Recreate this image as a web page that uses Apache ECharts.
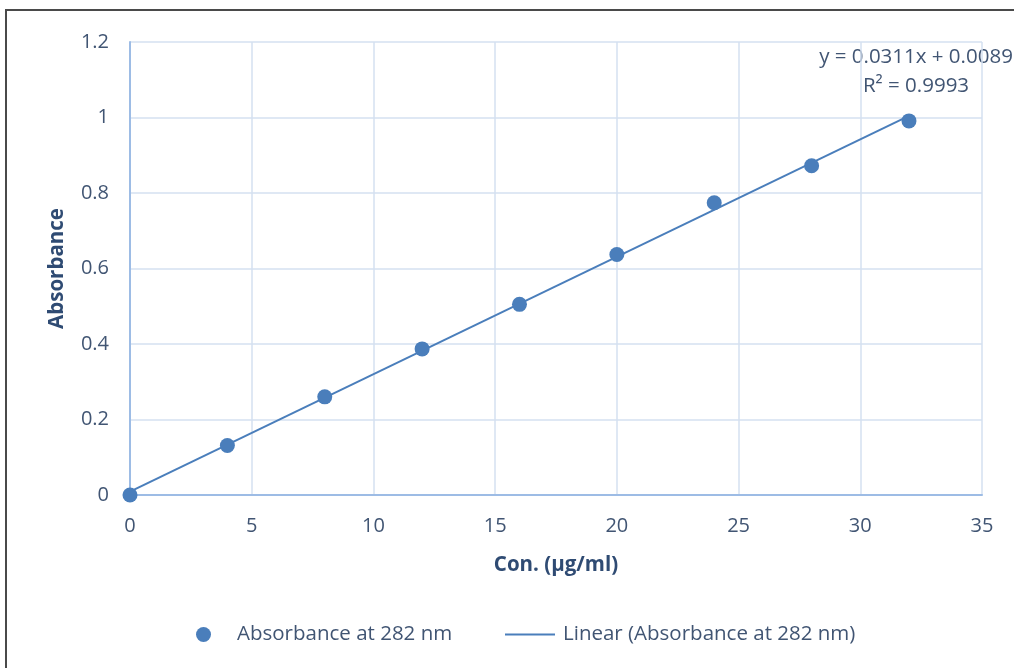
<!DOCTYPE html>
<html>
<head>
<meta charset="utf-8">
<script src="https://cdn.jsdelivr.net/npm/echarts@6/dist/echarts.min.js"></script>
<style>
html,body{margin:0;padding:0;background:#fff;}
#chart{width:1014px;height:668px;}
</style>
</head>
<body>
<div id="chart"></div>
<script>
// Data
const concentrations = [0, 4, 8, 12, 16, 20, 24, 28, 32];
const absorbance = [0.000, 0.131, 0.260, 0.387, 0.505, 0.637, 0.774, 0.872, 0.991];
const trendX = [0, 32];
const trendY = [0.0089, 1.0041];
const seriesName = 'Absorbance at 282 nm';
const trendName = 'Linear (Absorbance at 282 nm)';
const xAxisTitle = 'Con. (µg/ml)';
const yAxisTitle = 'Absorbance';
const equationText = 'y = 0.0311x + 0.0089';
const r2Text = 'R² = 0.9993';

const FONT = '"Open Sans", "DejaVu Sans", sans-serif';
const TXT = '#415573';
const TITLE = '#2F4B73';
const BLUE = '#4A7EBB';
const AXIS = '#9DBCE5';
const GRID = '#D5E1F1';

const chart = echarts.init(document.getElementById('chart'));
chart.setOption({
  backgroundColor: '#fff',
  animation: false,
  grid: { left: 130, right: 32, top: 42, bottom: 173, containLabel: false },
  xAxis: {
    type: 'value', min: 0, max: 35, interval: 5,
    name: xAxisTitle, nameLocation: 'middle', nameGap: 60,
    nameTextStyle: { fontFamily: FONT, fontSize: 20.5, fontWeight: 'bold', color: TITLE },
    axisLine: { show: true, onZero: false, lineStyle: { color: AXIS, width: 2 } },
    axisTick: { show: false },
    axisLabel: { margin: 21, fontFamily: FONT, fontSize: 20, color: TXT },
    splitLine: { show: true, lineStyle: { color: GRID, width: 1.5 } }
  },
  yAxis: {
    type: 'value', min: 0, max: 1.2, interval: 0.2,
    name: yAxisTitle, nameLocation: 'middle', nameGap: 62,
    nameTextStyle: { fontFamily: FONT, fontSize: 20.5, fontWeight: 'bold', color: TITLE },
    axisLine: { show: true, lineStyle: { color: AXIS, width: 2 } },
    axisTick: { show: false },
    axisLabel: { margin: 21, fontFamily: FONT, fontSize: 20, color: TXT },
    splitLine: { show: true, lineStyle: { color: GRID, width: 1.5 } }
  },
  legend: [
    {
      data: [{ name: seriesName, icon: 'circle' }],
      left: 191, top: 619, itemWidth: 15, itemHeight: 15,
      textStyle: { fontFamily: FONT, fontSize: 20.5, color: TXT, padding: [0, 0, 0, 21] }
    },
    {
      data: [{ name: trendName, icon: 'rect' }],
      left: 500, top: 619, itemWidth: 50, itemHeight: 2,
      textStyle: { fontFamily: FONT, fontSize: 20.5, color: TXT, padding: [0, 0, 0, 3] }
    }
  ],
  series: [
    {
      name: trendName, type: 'line', symbol: 'none',
      data: trendX.map((x, i) => [x, trendY[i]]),
      lineStyle: { color: BLUE, width: 2 }, itemStyle: { color: BLUE },
      z: 2
    },
    {
      name: seriesName, type: 'scatter', symbol: 'circle', symbolSize: 15,
      data: concentrations.map((x, i) => [x, absorbance[i]]),
      itemStyle: { color: BLUE, opacity: 1 }, z: 3
    }
  ],
  graphic: [
    { type: 'rect', shape: { x: 6, y: 10, width: 1200, height: 800 },
      style: { fill: 'none', stroke: '#4A4A4A', lineWidth: 2 }, silent: true, z: 100 },
    { type: 'text', x: 916, y: 57,
      style: { text: equationText, fontFamily: FONT, fontSize: 20.5, fill: TXT, textAlign: 'center', textVerticalAlign: 'middle' } },
    { type: 'text', x: 916, y: 86,
      style: { text: r2Text, fontFamily: FONT, fontSize: 20.5, fill: TXT, textAlign: 'center', textVerticalAlign: 'middle' } }
  ]
});
</script>
</body>
</html>
